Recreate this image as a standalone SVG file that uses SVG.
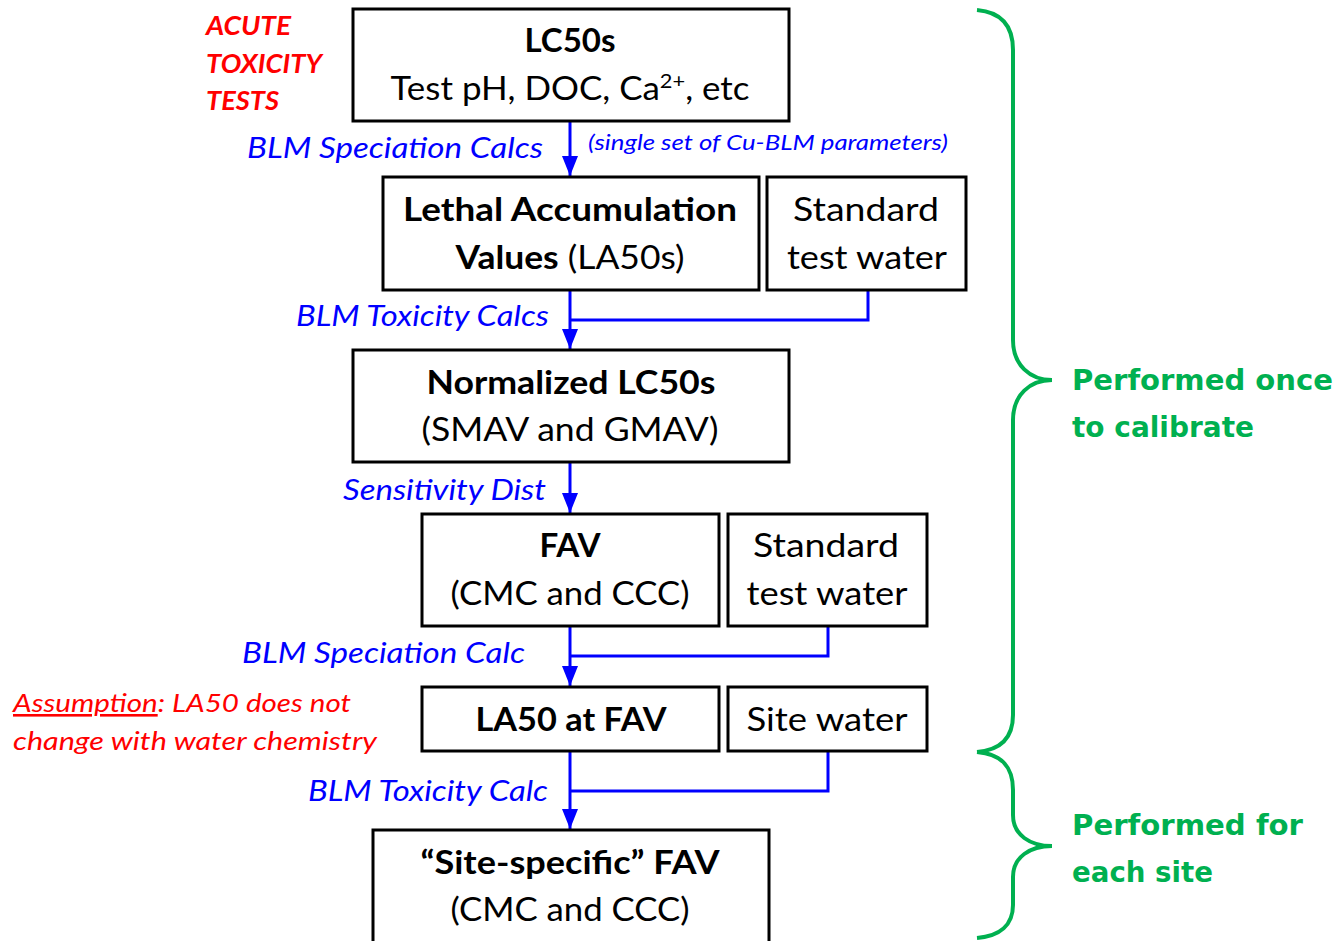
<svg xmlns="http://www.w3.org/2000/svg" width="1338" height="941" viewBox="0 0 1338 941">
<defs>
<style>
.box{fill:#fff;stroke:#000;stroke-width:3}
.t{font-family:Lato,"Open Sans","Liberation Sans",sans-serif;font-size:32px;fill:#000;text-anchor:middle}
.b{font-weight:bold}
.lbl{font-family:Lato,"Open Sans","Liberation Sans",sans-serif;font-style:italic;fill:#0000FF;font-size:29px}
.red{font-family:Lato,"Open Sans","Liberation Sans",sans-serif;font-style:italic;fill:#FF0000;font-size:26px}
.grn{font-family:"DejaVu Sans","Liberation Sans",sans-serif;font-weight:bold;fill:#00B050;font-size:28px}
.conn{fill:none;stroke:#0000FF;stroke-width:3}
.brace{fill:none;stroke:#00B050;stroke-width:4}
</style>
<marker id="ah" markerUnits="userSpaceOnUse" markerWidth="22" markerHeight="18" refX="20" refY="8" orient="auto">
<path d="M0,0 L20,8 L0,16 z" fill="#0000FF"/>
</marker>
</defs>
<rect width="1338" height="941" fill="#fff"/>

<g id="connectors">
<line class="conn" x1="570" y1="121" x2="570" y2="176" marker-end="url(#ah)"/>
<line class="conn" x1="570" y1="290" x2="570" y2="349" marker-end="url(#ah)"/>
<path class="conn" d="M868,290 V320 H570"/>
<line class="conn" x1="570" y1="462" x2="570" y2="513" marker-end="url(#ah)"/>
<line class="conn" x1="570" y1="626" x2="570" y2="686" marker-end="url(#ah)"/>
<path class="conn" d="M828,626 V656 H570"/>
<line class="conn" x1="570" y1="751" x2="570" y2="829" marker-end="url(#ah)"/>
<path class="conn" d="M828,751 V791 H570"/>
</g>

<g id="labels">
<text class="lbl" x="543" y="158" text-anchor="end" textLength="296" lengthAdjust="spacingAndGlyphs">BLM Speciation Calcs</text>
<text class="lbl" x="588" y="150" font-size="21" textLength="360" lengthAdjust="spacingAndGlyphs" style="font-size:21px">(single set of Cu-BLM parameters)</text>
<text class="lbl" x="549" y="326" text-anchor="end" textLength="253" lengthAdjust="spacingAndGlyphs">BLM Toxicity Calcs</text>
<text class="lbl" x="546" y="500" text-anchor="end" textLength="203" lengthAdjust="spacingAndGlyphs">Sensitivity Dist</text>
<text class="lbl" x="525" y="663" text-anchor="end" textLength="283" lengthAdjust="spacingAndGlyphs">BLM Speciation Calc</text>
<text class="lbl" x="548" y="801" text-anchor="end" textLength="240" lengthAdjust="spacingAndGlyphs">BLM Toxicity Calc</text>
</g>

<g id="acute-label">
<text class="red b" x="206" y="35" textLength="85" lengthAdjust="spacingAndGlyphs">ACUTE</text>
<text class="red b" x="206" y="73" textLength="116" lengthAdjust="spacingAndGlyphs">TOXICITY</text>
<text class="red b" x="206" y="110" textLength="73" lengthAdjust="spacingAndGlyphs">TESTS</text>
</g>

<g id="assumption-label">
<text class="red" x="13" y="712" textLength="338" lengthAdjust="spacingAndGlyphs"><tspan text-decoration="underline">Assumption</tspan>: LA50 does not</text>
<text class="red" x="13" y="750" textLength="364" lengthAdjust="spacingAndGlyphs">change with water chemistry</text>
</g>

<g id="lc50s">
<rect class="box" x="353" y="9" width="436" height="112"/>
<text class="t b" x="570" y="52" textLength="91" lengthAdjust="spacingAndGlyphs">LC50s</text>
<text class="t" x="570" y="100" textLength="359" lengthAdjust="spacingAndGlyphs">Test pH, DOC, Ca<tspan dy="-12" style="font-size:20px">2+</tspan><tspan dy="12">, etc</tspan></text>
</g>

<g id="la50s">
<rect class="box" x="383" y="177" width="376" height="113"/>
<text class="t b" x="570" y="221" textLength="334" lengthAdjust="spacingAndGlyphs">Lethal Accumulation</text>
<text class="t" x="570" y="269" textLength="229" lengthAdjust="spacingAndGlyphs"><tspan class="b">Values</tspan> (LA50s)</text>
</g>

<g id="std-water-1">
<rect class="box" x="767" y="177" width="199" height="113"/>
<text class="t" x="866" y="221" textLength="146" lengthAdjust="spacingAndGlyphs">Standard</text>
<text class="t" x="867" y="269" textLength="160" lengthAdjust="spacingAndGlyphs">test water</text>
</g>

<g id="normalized">
<rect class="box" x="353" y="350" width="436" height="112"/>
<text class="t b" x="571" y="394" textLength="289" lengthAdjust="spacingAndGlyphs">Normalized LC50s</text>
<text class="t" x="570" y="441" textLength="297" lengthAdjust="spacingAndGlyphs">(SMAV and GMAV)</text>
</g>

<g id="fav">
<rect class="box" x="422" y="514" width="297" height="112"/>
<text class="t b" x="570" y="557" textLength="61" lengthAdjust="spacingAndGlyphs">FAV</text>
<text class="t" x="570" y="605" textLength="239" lengthAdjust="spacingAndGlyphs">(CMC and CCC)</text>
</g>

<g id="std-water-2">
<rect class="box" x="728" y="514" width="199" height="112"/>
<text class="t" x="826" y="557" textLength="146" lengthAdjust="spacingAndGlyphs">Standard</text>
<text class="t" x="827" y="605" textLength="161" lengthAdjust="spacingAndGlyphs">test water</text>
</g>

<g id="la50-fav">
<rect class="box" x="422" y="687" width="297" height="64"/>
<text class="t b" x="571" y="731" textLength="191" lengthAdjust="spacingAndGlyphs">LA50 at FAV</text>
</g>

<g id="site-water">
<rect class="box" x="728" y="687" width="199" height="64"/>
<text class="t" x="827" y="731" textLength="161" lengthAdjust="spacingAndGlyphs">Site water</text>
</g>

<g id="site-fav">
<rect class="box" x="373" y="830" width="396" height="120"/>
<text class="t b" x="570" y="874" textLength="299" lengthAdjust="spacingAndGlyphs">“Site-specific” FAV</text>
<text class="t" x="570" y="921" textLength="239" lengthAdjust="spacingAndGlyphs">(CMC and CCC)</text>
</g>

<g id="brace-calibrate">
<path class="brace" d="M977,10 C1000,12 1013,25 1013,50 V340 C1013,365 1030,380 1052,380 C1030,380 1013,395 1013,420 V715 C1013,738 1000,750 977,752"/>
<text class="grn" x="1072" y="390" textLength="261" lengthAdjust="spacingAndGlyphs">Performed once</text>
<text class="grn" x="1072" y="437" textLength="182" lengthAdjust="spacingAndGlyphs">to calibrate</text>
</g>

<g id="brace-site">
<path class="brace" d="M977,752 C1000,754 1013,765 1013,790 V815 C1013,835 1030,846 1052,846 C1030,846 1013,857 1013,877 V905 C1013,925 1000,936 977,938"/>
<text class="grn" x="1072" y="835" textLength="231" lengthAdjust="spacingAndGlyphs">Performed for</text>
<text class="grn" x="1072" y="882" textLength="141" lengthAdjust="spacingAndGlyphs">each site</text>
</g>
</svg>
